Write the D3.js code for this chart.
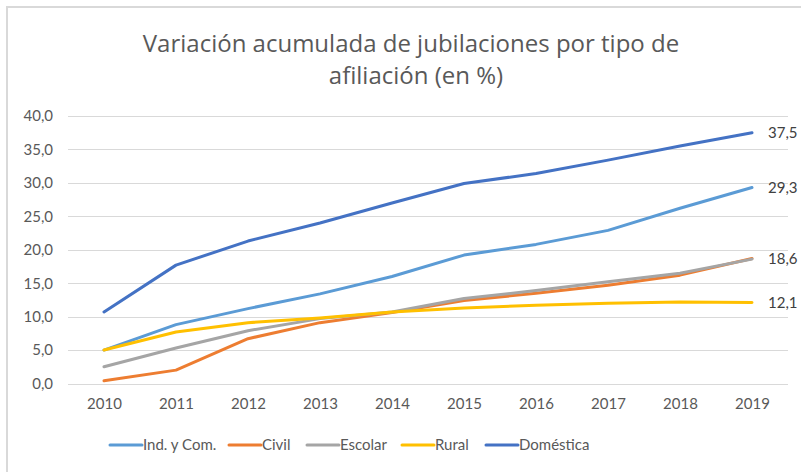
<!DOCTYPE html>
<html>
<head>
<meta charset="utf-8">
<script src="https://cdn.jsdelivr.net/npm/d3@7"></script>
<style>
  html, body { margin: 0; padding: 0; background: #fff; }
  svg { display: block; font-family: Lato, "Open Sans", sans-serif; }
</style>
</head>
<body>
<svg width="801" height="472"></svg>
<script>
const years = ["2010","2011","2012","2013","2014","2015","2016","2017","2018","2019"];
const yTicks = [0, 5, 10, 15, 20, 25, 30, 35, 40];

const indYCom  = [5.0, 8.8, 11.2, 13.4, 16.0, 19.2, 20.8, 22.9, 26.2, 29.3];
const civil    = [0.4, 2.0, 6.7, 9.1, 10.6, 12.4, 13.5, 14.7, 16.2, 18.7];
const escolar  = [2.5, 5.3, 7.9, 9.7, 10.7, 12.7, 13.9, 15.2, 16.5, 18.6];
const rural    = [5.0, 7.7, 9.1, 9.8, 10.7, 11.3, 11.7, 12.0, 12.2, 12.1];
const domestica = [10.7, 17.7, 21.3, 24.0, 27.0, 29.9, 31.4, 33.4, 35.5, 37.5];

const seriesNames = ["Ind. y Com.", "Civil", "Escolar", "Rural", "Doméstica"];
const seriesColors = ["#5B9BD5", "#ED7D31", "#A5A5A5", "#FFC000", "#4472C4"];
const endLabels = [29.3, null, 18.6, 12.1, 37.5];

const series = [indYCom, civil, escolar, rural, domestica].map((v, i) => ({
  name: seriesNames[i], color: seriesColors[i], values: v, label: endLabels[i]
}));

const svg = d3.select("svg");
const margin = {top: 116, right: 13, bottom: 88, left: 68};
const width = +svg.attr("width"), height = +svg.attr("height");
const fmt = v => d3.format(".1f")(v).replace(".", ",");

// chart frame (only the left and top edges show)
svg.append("line").attr("x1", 7).attr("x2", 7).attr("y1", 6).attr("y2", height)
  .attr("stroke", "#d9d9d9").attr("stroke-width", 2);
svg.append("line").attr("x1", 6).attr("x2", width).attr("y1", 7).attr("y2", 7)
  .attr("stroke", "#d9d9d9").attr("stroke-width", 2);

const x = d3.scalePoint().domain(years)
  .range([margin.left, 788]).padding(0.5);
const y = d3.scaleLinear().domain([0, 40])
  .range([383.5, margin.top]);

// title
const title = svg.append("text").attr("text-anchor", "middle")
  .attr("fill", "#595959").style("font-size", "24px")
  .style("font-family", "'Open Sans', sans-serif");
title.append("tspan").attr("x", 411).attr("y", 52)
  .text("Variación acumulada de jubilaciones por tipo de");
title.append("tspan").attr("x", 416).attr("y", 84)
  .text("afiliación (en %)");

// gridlines
svg.append("g")
  .selectAll("line").data(yTicks).join("line")
  .attr("x1", margin.left).attr("x2", 788)
  .attr("y1", d => Math.round(y(d)) + 0.5).attr("y2", d => Math.round(y(d)) + 0.5)
  .attr("stroke", "#d9d9d9").attr("stroke-width", 1);

// y axis
const yAxis = svg.append("g")
  .attr("transform", `translate(${margin.left},0)`)
  .call(d3.axisLeft(y).tickValues(yTicks).tickFormat(fmt).tickSize(0).tickPadding(15));
yAxis.select(".domain").remove();
yAxis.selectAll("text").attr("fill", "#595959").style("font-size", "15px")
  .style("font-family", "Lato, sans-serif");

// x axis
const xAxis = svg.append("g")
  .attr("transform", `translate(0,${y(0)})`)
  .call(d3.axisBottom(x).tickSize(0).tickPadding(15));
xAxis.select(".domain").remove();
xAxis.selectAll("text").attr("fill", "#595959").style("font-size", "15px")
  .style("font-family", "Lato, sans-serif");

// lines
const line = d3.line()
  .x((d, i) => x(years[i]))
  .y(d => y(d));

svg.append("g")
  .selectAll("path").data(series).join("path")
  .attr("fill", "none")
  .attr("stroke", d => d.color)
  .attr("stroke-width", 3)
  .attr("stroke-linejoin", "round")
  .attr("stroke-linecap", "round")
  .attr("d", d => line(d.values));

// end labels
svg.append("g")
  .selectAll("text").data(series.filter(d => d.label !== null)).join("text")
  .attr("x", x(years[years.length - 1]) + 16)
  .attr("y", d => y(d.values[d.values.length - 1]))
  .attr("dy", "0.35em")
  .attr("fill", "#404040")
  .style("font-size", "15px")
  .text(d => fmt(d.label));

// legend
const legend = svg.append("g").attr("transform", "translate(0,445)");
const legendX = [110, 229, 307, 402, 486];
const item = legend.selectAll("g").data(series).join("g")
  .attr("transform", (d, i) => `translate(${legendX[i]},0)`);
item.append("line")
  .attr("x1", 0).attr("x2", 32).attr("y1", 0).attr("y2", 0)
  .attr("stroke", d => d.color).attr("stroke-width", 3)
  .attr("stroke-linecap", "round");
item.append("text")
  .attr("x", 33).attr("dy", "0.35em")
  .attr("fill", "#595959")
  .style("font-size", "15px")
  .style("font-stretch", "condensed")
  .text(d => d.name);
</script>
</body>
</html>
